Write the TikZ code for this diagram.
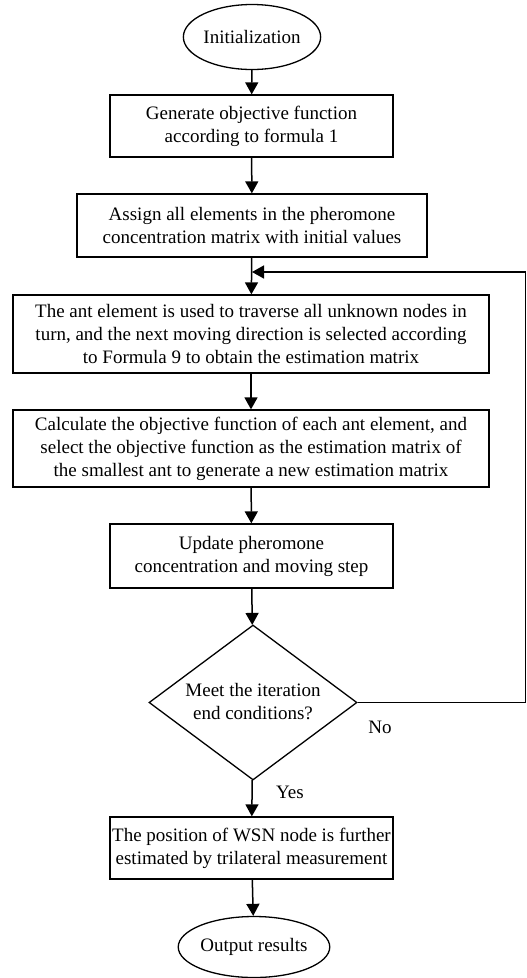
\documentclass[tikz,border=0pt]{standalone}
\usepackage{fontspec}
\setmainfont{Liberation Serif}
\usetikzlibrary{shapes.geometric,arrows.meta}
\begin{document}
\begin{tikzpicture}[x=1pt,y=-1pt,
  every node/.style={font=\fontsize{19}{23}\selectfont, inner sep=0pt},
  proc/.style={draw, line width=1.3pt, align=center},
  term/.style={draw, ellipse, line width=1.3pt, align=center},
  arr/.style={line width=1.5pt, -{Triangle[length=12pt,width=13pt]}},
  ln/.style={line width=1.5pt}]
\useasboundingbox (0,0) rectangle (527,978);
\node[term, minimum width=136pt, minimum height=65pt] (init) at (252,37) {Initialization};
\node[proc, minimum width=283pt, minimum height=62pt] (b1) at (251.5,126) {Generate objective function\\according to formula 1};
\node[proc, minimum width=350pt, minimum height=63pt] (b2) at (252,225.5) {Assign all elements in the pheromone\\concentration matrix with initial values};
\node[proc, minimum width=476pt, minimum height=78pt] (b3) at (251,334) {The ant element is used to traverse all unknown nodes in\\turn, and the next moving direction is selected according\\to Formula 9 to obtain the estimation matrix};
\node[proc, minimum width=476pt, minimum height=77pt] (b4) at (251,448.5) {Calculate the objective function of each ant element, and\\select the objective function as the estimation matrix of\\the smallest ant to generate a new estimation matrix};
\node[proc, minimum width=283pt, minimum height=64pt] (b5) at (251.5,556) {Update pheromone\\concentration and moving step};
\node[draw, line width=1.3pt, diamond, minimum width=208pt, minimum height=155pt, inner sep=0pt] (d) at (253,702.5) {};
\node[align=center] (dt) at (253,702) {Meet the iteration\\end conditions?};
\node[proc, minimum width=283pt, minimum height=62pt] (b6) at (251.5,848) {The position of WSN node is further\\estimated by trilateral measurement};
\node[term, minimum width=138pt, minimum height=61pt] (out) at (254,947) {Output results};
\node (no) at (380,727) {No};
\node (yes) at (290,792) {Yes};
\coordinate (fbL) at (b2.south |- 0,272);
\coordinate (fbR1) at (525.5,272);
\coordinate (fbR2) at (525.5,702.5);
\draw[arr] (init) -- (b1);
\draw[arr] (b1) -- (b2);
\draw[arr] (b2) -- (b3);
\draw[arr] (b3) -- (b4);
\draw[arr] (b4) -- (b5);
\draw[arr] (b5) -- (d);
\draw[arr] (d) -- (b6);
\draw[arr] (b6) -- (out);
\draw[ln] (d.east) -- (fbR2) -- (fbR1);
\draw[arr] (fbR1) -- (fbL);
\end{tikzpicture}
\end{document}
